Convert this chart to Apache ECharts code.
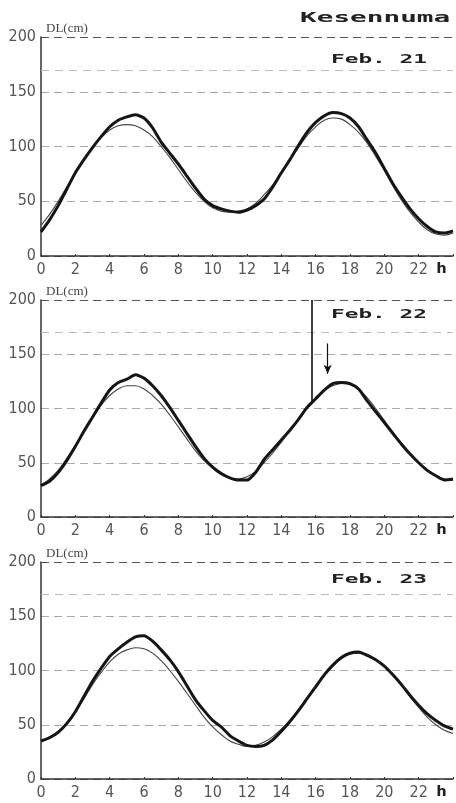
<!DOCTYPE html>
<html>
<head>
<meta charset="utf-8">
<script src="https://cdn.jsdelivr.net/npm/echarts@6/dist/echarts.min.js"></script>
<style>
  html, body { margin: 0; padding: 0; background: #fff; }
  #chart { width: 456px; height: 803px; }
</style>
</head>
<body>
<div id="chart"></div>
<script>
// sample times (h), every half hour
const hours = []
for (let i = 0; i <= 48; i++) hours.push(i / 2)

// Feb.21 observed / predicted tide level (cm)
const obs21 = [22, 33, 46, 61, 76, 88, 99, 109, 118, 124, 127, 129, 126, 117, 104, 94, 84, 73, 62, 52, 46, 43, 41, 40, 42,
  46, 52, 63, 76, 88, 101, 113, 122, 128, 131, 130, 126, 118, 106, 94, 80, 66, 54, 43, 34, 27, 22, 21, 23]
const pred21 = [28, 38, 50, 63, 76, 88, 99, 108, 115, 119, 120, 119, 115, 109, 100, 90, 79, 68, 58, 50, 44, 41, 40, 41, 43,
  48, 56, 65, 76, 88, 99, 110, 118, 124, 126, 125, 120, 113, 103, 91, 78, 64, 51, 40, 31, 24, 20, 19, 21]

// Feb.22
const obs22 = [29, 33, 41, 52, 65, 79, 92, 105, 117, 124, 127, 131, 128, 121, 112, 101, 89, 77, 65, 54, 46, 40, 36, 34, 34,
  41, 53, 62, 71, 80, 90, 101, 109, 117, 123, 124, 123, 118, 107, 97, 87, 77, 67, 58, 50, 43, 38, 34, 35]
const pred22 = [29, 35, 43, 54, 66, 79, 92, 103, 112, 118, 121, 121, 118, 112, 104, 94, 83, 72, 61, 52, 45, 39, 36, 35, 37,
  42, 50, 59, 69, 80, 90, 100, 109, 117, 121, 123, 122, 118, 110, 100, 89, 78, 68, 58, 50, 43, 38, 35, 34]

// Feb.23
const obs23 = [35, 38, 43, 51, 62, 76, 90, 102, 113, 120, 126, 131, 132, 127, 119, 110, 99, 86, 73, 63, 54, 48, 40, 35, 31,
  30, 31, 36, 44, 53, 63, 74, 85, 96, 105, 112, 116, 117, 114, 110, 104, 96, 87, 77, 68, 60, 54, 49, 46]
const pred23 = [35, 39, 44, 52, 62, 74, 87, 98, 108, 115, 119, 121, 120, 116, 109, 100, 90, 79, 68, 57, 48, 41, 35, 32, 30,
  31, 34, 39, 46, 54, 64, 75, 85, 95, 104, 111, 115, 116, 115, 110, 104, 95, 86, 76, 66, 57, 50, 45, 42]

const dayLabels = ['Feb. 21', 'Feb. 22', 'Feb. 23']
const refLevel = 170
// Feb.22 event: vertical spike line and arrow (h, cm)
const spikeLine = [[15.75, 200], [15.75, 106]]
const arrowLine = [[16.7, 160], [16.7, 132]]

const panels = [
  { obs: obs21, pred: pred21, top: 37, height: 219 },
  { obs: obs22, pred: pred22, top: 300, height: 217 },
  { obs: obs23, pred: pred23, top: 562, height: 217 }
]

const labelFont = '"Liberation Sans Narrow", "DejaVu Sans Condensed", sans-serif'
const pair = (arr) => arr.map((v, i) => [hours[i], v])

const chart = echarts.init(document.getElementById('chart'), null, { renderer: 'canvas' })

const grid = []
const xAxis = []
const yAxis = []
const series = []
const graphic = []

panels.forEach((p, i) => {
  grid.push({ left: 41, width: 415, top: p.top, height: p.height })
  xAxis.push({
    type: 'value',
    gridIndex: i,
    min: 0,
    max: 24,
    interval: 2,
    axisLine: { onZero: false, lineStyle: { color: '#333', width: 1.5 } },
    axisTick: { show: true, length: 2, inside: true, lineStyle: { color: '#333' } },
    splitLine: { show: false },
    axisLabel: {
      margin: 6,
      color: '#555',
      fontSize: 16,
      fontFamily: labelFont,
      formatter: (v) => (v === 24 ? '' : String(v))
    }
  })
  yAxis.push({
    type: 'value',
    gridIndex: i,
    min: 0,
    max: 200,
    interval: 50,
    name: 'DL(cm)',
    nameLocation: 'end',
    nameGap: 2,
    nameTextStyle: { align: 'left', color: '#444', fontSize: 13, fontFamily: '"Liberation Serif", serif', padding: [0, 0, 0, 5] },
    axisLine: { show: true, lineStyle: { color: '#333', width: 1.5 } },
    axisTick: { show: false },
    axisLabel: { margin: 5, color: '#555', fontSize: 16, fontFamily: labelFont },
    splitLine: {
      show: true,
      lineStyle: { color: ['#666', '#aaa', '#aaa', '#aaa', '#555'], type: [8, 5], width: 1 }
    }
  })
  series.push({
    type: 'line',
    name: 'predicted',
    xAxisIndex: i,
    yAxisIndex: i,
    data: pair(p.pred),
    showSymbol: false,
    smooth: 0.4,
    lineStyle: { color: '#444', width: 1.1 },
    z: 3
  })
  const obsSeries = {
    type: 'line',
    name: 'observed',
    xAxisIndex: i,
    yAxisIndex: i,
    data: pair(p.obs),
    showSymbol: false,
    smooth: 0.2,
    lineStyle: { color: '#151515', width: 3 },
    z: 4,
    markLine: {
      silent: true,
      symbol: 'none',
      label: { show: false },
      lineStyle: { color: '#bbb', type: [8, 6], width: 1 },
      data: [{ yAxis: refLevel }]
    }
  }
  if (i === 1) {
    obsSeries.markLine.data.push(
      [{ coord: spikeLine[0], lineStyle: { color: '#111', type: 'solid', width: 1.6 } }, { coord: spikeLine[1] }],
      [{ coord: arrowLine[0], symbol: 'none', lineStyle: { color: '#111', type: 'solid', width: 1.2 } },
        { coord: arrowLine[1], symbol: 'arrow', symbolSize: [6, 9] }]
    )
  }
  series.push(obsSeries)

  // date tag and "h" unit (stretched typewriter style)
  graphic.push({
    type: 'text',
    x: 331,
    y: p.top + 23 + (i === 0 ? 0 : -8) + (i === 2 ? 3 : 0),
    scaleX: 1.75,
    style: { text: dayLabels[i], font: 'bold 13px "DejaVu Sans Mono", monospace', fill: '#222', textVerticalAlign: 'middle' }
  })
  graphic.push({
    type: 'text',
    x: 436,
    y: p.top + p.height + 13,
    scaleX: 1.3,
    style: { text: 'h', font: 'bold 14px "DejaVu Sans Mono", monospace', fill: '#222', textVerticalAlign: 'middle' }
  })
})

graphic.push({
  type: 'text',
  x: 300,
  y: 18,
  scaleX: 1.98,
  style: { text: 'Kesennuma', font: 'bold 14px "DejaVu Sans Mono", monospace', fill: '#222', textVerticalAlign: 'middle' }
})

chart.setOption({
  backgroundColor: '#fff',
  animation: false,
  grid,
  xAxis,
  yAxis,
  series,
  graphic
})
</script>
</body>
</html>
